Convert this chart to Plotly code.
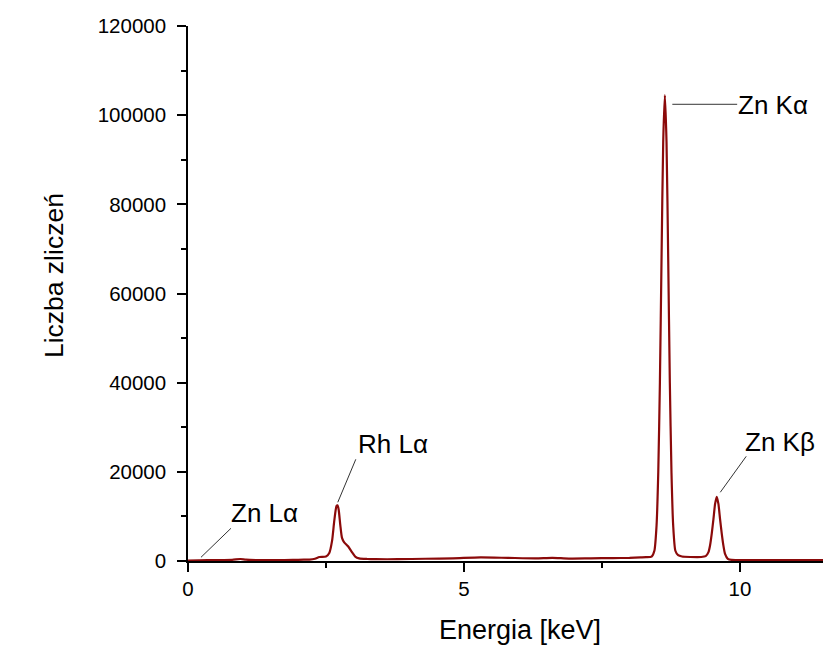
import plotly.graph_objects as go

# Spectrum (energy in keV, counts)
energy = [0.0, 0.2, 0.5, 0.8, 0.95, 1.05, 1.3, 1.6, 1.9, 2.1, 2.2, 2.3, 2.38, 2.5,
          2.56, 2.61, 2.65, 2.69, 2.71, 2.73, 2.76, 2.79, 2.83, 2.9, 2.97, 3.03, 3.1,
          3.25, 3.4, 3.8, 4.3, 4.8, 5.3, 5.8, 6.3, 6.6, 6.9, 7.3, 7.7, 8.0, 8.2, 8.3,
          8.4, 8.45, 8.49, 8.52, 8.55, 8.58, 8.61, 8.64, 8.67, 8.70, 8.73, 8.76, 8.79,
          8.83, 8.88, 8.95, 9.1, 9.3, 9.38, 9.43, 9.46, 9.49, 9.52, 9.55, 9.58, 9.61,
          9.64, 9.67, 9.70, 9.73, 9.78, 9.85, 10.2, 11.0, 11.65]
counts = [100, 150, 200, 250, 450, 300, 200, 200, 250, 300, 300, 500, 900, 1000,
          1800, 4500, 9000, 12300, 12500, 11500, 8000, 5200, 4200, 3300, 2000, 1000, 600,
          450, 400, 400, 500, 600, 800, 700, 600, 700, 550, 600, 650, 700, 800, 850,
          1000, 2300, 8100, 19800, 40000, 68200, 94000, 104500, 94000, 68200, 40000, 19800, 8100,
          2300, 1300, 1000, 900, 900, 1100, 2000, 3600, 6200, 9400, 12800, 14400, 12800,
          9400, 6200, 3500, 1600, 500, 250, 200, 200, 200]

# Peak labels: text, text position, leader line (x0, y0) -> (x1, y1)
labels = ["Zn L\u03b1", "Rh L\u03b1", "Zn K\u03b1", "Zn K\u03b2"]
label_x = [0.745, 3.04, 9.93, 10.06]
label_y = [10810, 26180, 102300, 26620]
lead_x0 = [0.235, 2.714, 8.775, 9.644]
lead_y0 = [830, 13170, 102440, 15410]
lead_x1 = [0.778, 3.04, 9.95, 10.114]
lead_y1 = [7330, 22810, 102440, 23480]

x_ticks = [0, 5, 10]
y_ticks = [0, 20000, 40000, 60000, 80000, 100000, 120000]
x_title = "Energia [keV]"
y_title = "Liczba zlicze\u0144"

FONT = "Liberation Sans, Arial, sans-serif"

fig = go.Figure()
fig.add_trace(go.Scatter(x=energy, y=counts, mode="lines",
                         line=dict(color="#8b0a0a", width=2.2, shape="spline", smoothing=0.6),
                         hoverinfo="skip", showlegend=False))

for i in range(len(labels)):
    fig.add_shape(type="line", x0=lead_x0[i], y0=lead_y0[i], x1=lead_x1[i], y1=lead_y1[i],
                  xref="x", yref="y", line=dict(color="#333333", width=1))
    fig.add_annotation(x=label_x[i], y=label_y[i], text=labels[i], showarrow=False,
                       xanchor="left", yanchor="middle", xref="x", yref="y",
                       font=dict(family=FONT, size=26, color="black"))

# Axis titles (placed as in the original, whose x axis runs past the picture edge)
fig.add_annotation(x=0.517, y=-0.1295, xref="paper", yref="paper", text=x_title,
                   showarrow=False, xanchor="center", yanchor="middle",
                   font=dict(family=FONT, size=27, color="black"))
fig.add_annotation(x=-0.208, y=0.533, xref="paper", yref="paper", text=y_title,
                   showarrow=False, xanchor="center", yanchor="middle", textangle=-90,
                   font=dict(family=FONT, size=26.5, color="black"))

fig.update_layout(
    width=823, height=652,
    margin=dict(l=179.5, r=0, t=17.7, b=99.3),
    paper_bgcolor="white", plot_bgcolor="white",
    font=dict(family=FONT, color="black"),
    xaxis=dict(range=[0, 11.65], tickvals=x_ticks, ticktext=[str(v) for v in x_ticks],
               showgrid=False, zeroline=False, showline=True, linecolor="black", linewidth=1.5,
               ticks="outside", ticklen=9, tickwidth=1.5, tickcolor="black",
               tickfont=dict(size=20.5, family=FONT),
               minor=dict(tickvals=[2.5, 7.5], ticks="outside", ticklen=5, tickwidth=1.5,
                          tickcolor="black", showgrid=False)),
    yaxis=dict(range=[0, 120000], tickvals=y_ticks, ticktext=[str(v) for v in y_ticks],
               showgrid=False, zeroline=False, showline=True, linecolor="black", linewidth=1.5,
               ticks="outside", ticklen=9, tickwidth=1.5, tickcolor="black",
               tickfont=dict(size=20.5, family=FONT), ticklabelstandoff=7,
               minor=dict(tickvals=[10000, 30000, 50000, 70000, 90000, 110000], ticks="outside",
                          ticklen=5, tickwidth=1.5, tickcolor="black", showgrid=False)),
)

fig.write_html("out.html")
